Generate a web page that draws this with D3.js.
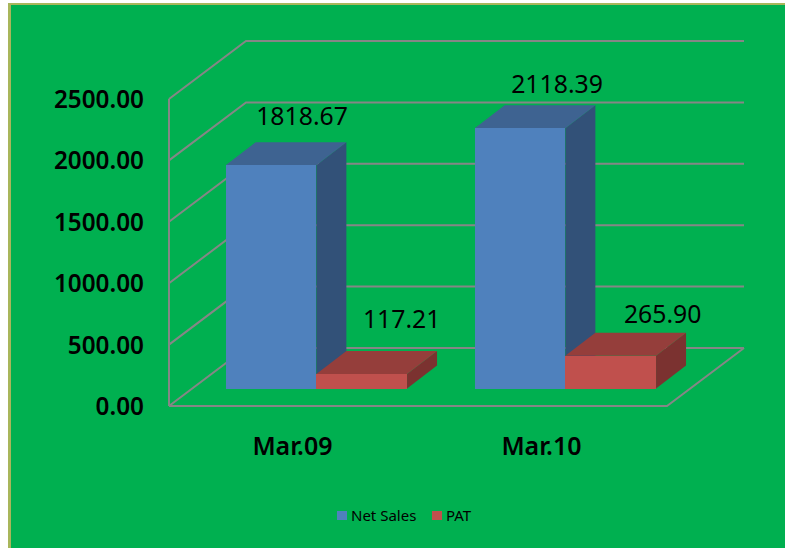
<!DOCTYPE html>
<html>
<head>
<meta charset="utf-8">
<script src="https://cdn.jsdelivr.net/npm/d3@7"></script>
<style>
  html, body { margin: 0; padding: 0; background: #fff; }
  svg { display: block; }
  text { font-family: "Noto Sans", sans-serif; fill: #000; }
</style>
</head>
<body>
<div id="chart"></div>
<script>
// values
const categories = ["Mar.09", "Mar.10"];
const seriesNames = ["Net Sales", "PAT"];
const netSales = [1818.67, 2118.39];
const pat = [117.21, 265.90];
const yTicks = [0, 500, 1000, 1500, 2000, 2500];

const width = 785, height = 548;

const svg = d3.select("#chart")
  .append("svg")
    .attr("width", width)
    .attr("height", height);

// green panel with olive edge on the top and left
svg.append("rect")
  .attr("x", 8).attr("y", 3)
  .attr("width", width).attr("height", height)
  .attr("fill", "#a9b65b");
svg.append("rect")
  .attr("x", 11).attr("y", 5)
  .attr("width", width).attr("height", height)
  .attr("fill", "#00b050");

// scales (front plane of the box)
const y = d3.scaleLinear().domain([0, 2500]).range([406, 99]);
const x = d3.scaleBand().domain(categories).range([169, 667]);
const xSeries = d3.scaleBand().domain(seriesNames).range([0, x.bandwidth()])
  .paddingInner(0).paddingOuter(0.373).align(0.838);
const color = d3.scaleOrdinal().domain(seriesNames).range(["#4f81bd", "#c0504d"]);
const topColor = d3.scaleOrdinal().domain(seriesNames).range(["#3e6391", "#953e3b"]);
const sideColor = d3.scaleOrdinal().domain(seriesNames).range(["#325178", "#7b3230"]);

// oblique offset of the back wall and of a bar's depth
const wall = {dx: 77, dy: -58};
const bar = {dx: 30, dy: -23};
const barBase = 388.5;
const barScale = (y(0) - y(1)); // px per unit

// the value labels were placed by hand in the original: [right, up] from the bar's top
const labelNudge = [
  [[1, 17], [10, 23]],
  [[7, 12], [22, 10]]
];

const line = d3.line();
const grid = svg.append("g")
  .attr("fill", "none")
  .attr("stroke", "#868686")
  .attr("stroke-width", 2);

yTicks.forEach((t) => {
  grid.append("path").attr("d", line([
    [x.range()[0], y(t)],
    [x.range()[0] + wall.dx, y(t) + wall.dy],
    [x.range()[1] + wall.dx, y(t) + wall.dy]
  ]));
});
// left wall edges and the floor outline
grid.append("path").attr("d", line([[x.range()[0], y(0)], [x.range()[0], y(2500)]]));
grid.append("path").attr("d", line([
  [x.range()[0], y(0)],
  [x.range()[1], y(0)],
  [x.range()[1] + wall.dx, y(0) + wall.dy]
]));

// y labels
svg.append("g").selectAll("text")
  .data(yTicks)
  .join("text")
    .attr("x", 144)
    .attr("y", (d) => y(d) + 9)
    .attr("text-anchor", "end")
    .attr("font-size", 24.3)
    .attr("font-weight", 600)
    .text((d) => d.toFixed(2));

// bars, series by series so that red sits against the blue side
const seriesValues = [netSales, pat];
const bars = svg.append("g");
const barLabels = svg.append("g");
categories.forEach((c, i) => {
  seriesNames.forEach((s, k) => {
    const value = seriesValues[k][i];
    const x0 = x(c) + xSeries(s);
    const x1 = x0 + xSeries.bandwidth();
    const h = value * barScale;
    const top = barBase - h;
    bars.append("path").attr("fill", sideColor(s)).attr("d", line([
      [x1, barBase], [x1 + bar.dx, barBase + bar.dy], [x1 + bar.dx, top + bar.dy], [x1, top]
    ]) + "Z");
    bars.append("path").attr("fill", topColor(s)).attr("d", line([
      [x0, top], [x0 + bar.dx, top + bar.dy], [x1 + bar.dx, top + bar.dy], [x1, top]
    ]) + "Z");
    bars.append("rect")
      .attr("x", x0).attr("y", top)
      .attr("width", xSeries.bandwidth()).attr("height", h)
      .attr("fill", color(s))
      .attr("shape-rendering", "crispEdges");
    barLabels.append("text")
      .attr("x", (x0 + x1) / 2 + bar.dx + labelNudge[i][k][0])
      .attr("y", top + bar.dy - labelNudge[i][k][1])
      .attr("text-anchor", "middle")
      .attr("font-size", 24.8)
      .text(value.toFixed(2));
  });
});

// category labels
svg.append("g").selectAll("text")
  .data(categories)
  .join("text")
    .attr("x", (d) => x(d) + x.bandwidth() / 2 - 1)
    .attr("y", 455)
    .attr("text-anchor", "middle")
    .attr("font-size", 25)
    .attr("font-weight", 600)
    .text((d) => d);

// legend
const legendX = d3.scaleOrdinal().domain(seriesNames).range([337, 432]);
const legend = svg.append("g");
seriesNames.forEach((s) => {
  legend.append("rect")
    .attr("x", legendX(s)).attr("y", 511)
    .attr("width", 10).attr("height", 9)
    .attr("fill", color(s));
  legend.append("text")
    .attr("x", legendX(s) + 14)
    .attr("y", 521)
    .attr("font-size", 15)
    .text(s);
});
</script>
</body>
</html>
